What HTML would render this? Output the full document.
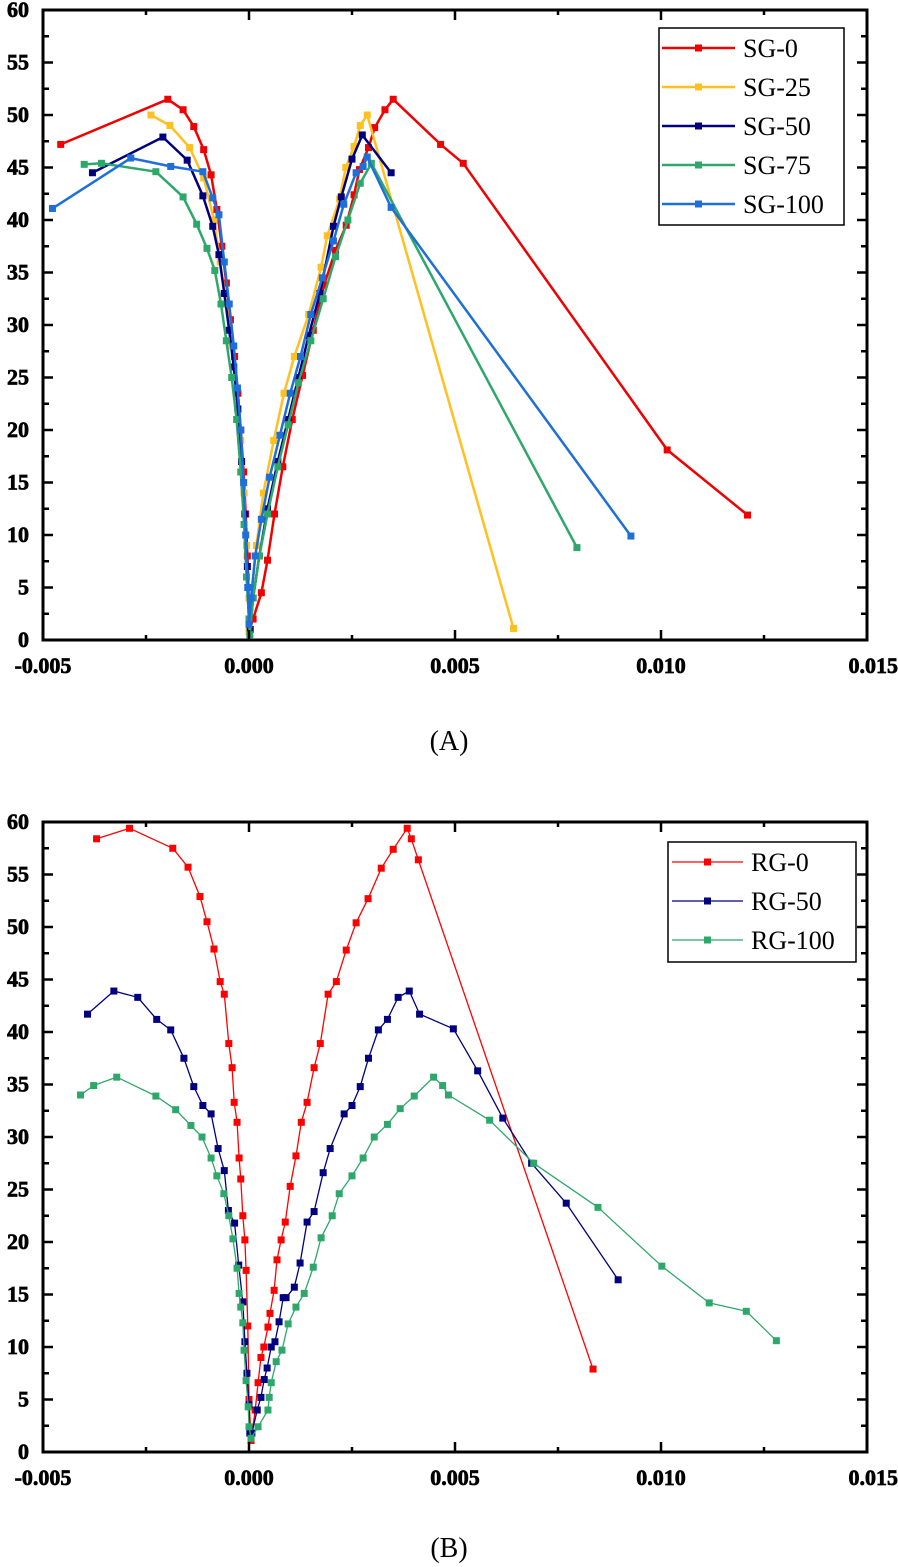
<!DOCTYPE html>
<html><head><meta charset="utf-8">
<style>
html,body{margin:0;padding:0;background:#fff;}
svg{display:block;font-family:"Liberation Serif",serif;}
.tk{font-weight:bold;font-size:22px;stroke:#000;stroke-width:0.7px;}
</style></head>
<body>
<svg id="fig" width="898" height="1567" viewBox="0 0 898 1567" xmlns="http://www.w3.org/2000/svg"></svg>
<script>
// ---- Chart A data ----
const seriesNamesA = ["SG-0","SG-25","SG-50","SG-75","SG-100"];
const colorsA = ["#f00000","#ffc020","#00007f","#2ea86a","#1e6fd8"];
const sg0X = [-0.00457,-0.00197,-0.0016,-0.00134,-0.0011,-0.00092,-0.00078,-0.00066,-0.00055,-0.00045,-0.00035,-0.00027,-0.0002,-0.00013,-0.00008,-0.00004,0,0.00002,0.0001,0.0003,0.00045,0.00062,0.00082,0.00105,0.0013,0.00156,0.00182,0.0021,0.00236,0.00255,0.00268,0.0029,0.00305,0.0033,0.0035,0.00465,0.0052,0.01015,0.0121];
const sg0Y = [47.2,51.5,50.5,48.9,46.7,44.3,41,37.5,34,30.5,27,23.5,20,16,12,8,4,1,2,4.5,7.6,12,16.5,21,25.2,29.5,33.8,37.1,39.5,42.4,44.8,46.9,48.8,50.5,51.5,47.2,45.4,18.1,11.9];
const sg25X = [-0.00238,-0.00192,-0.00144,-0.0011,-0.00085,-0.0007,-0.00055,-0.00042,-0.0003,-0.0002,-0.00012,-0.00006,0,0,0.00005,0.00018,0.00035,0.0006,0.00085,0.0011,0.00145,0.00175,0.0019,0.0022,0.00235,0.00255,0.0027,0.00287,0.00642];
const sg25Y = [50,49,46.9,44,40,36,32,28,24,19,14,9,4,0.8,4,9,14,19,23.5,27,31,35.5,38.5,42,45,47,49,50,1.1];
const sg50X = [-0.0038,-0.00209,-0.0015,-0.00112,-0.00088,-0.00073,-0.0006,-0.00048,-0.00037,-0.00027,-0.00018,-0.0001,-0.00004,0,0.00003,0.0001,0.00025,0.00045,0.0007,0.00095,0.0012,0.00145,0.00172,0.00205,0.00224,0.0025,0.00275,0.00345];
const sg50Y = [44.5,47.9,45.7,42.3,39.4,36.7,33,29.5,26,22,17,12,7,2,1,4,8,12.5,17,21,25,29,33,39.4,42.2,45.8,48.1,44.5];
const sg75X = [-0.004,-0.00358,-0.00226,-0.0016,-0.00127,-0.00102,-0.00083,-0.00068,-0.00055,-0.00042,-0.0003,-0.0002,-0.00012,-0.00006,0,0.00002,0.0001,0.00025,0.00045,0.0007,0.00095,0.0012,0.0015,0.0018,0.0021,0.0024,0.0027,0.00297,0.00796];
const sg75Y = [45.3,45.4,44.6,42.2,39.6,37.3,35.2,32,28.5,25,21,16,11,6,2,0.5,4,8,12,16.5,20.5,24.5,28.5,32.5,36.5,40,43.5,45.4,8.8];
const sg100X = [-0.00477,-0.00287,-0.0019,-0.00112,-0.00088,-0.00073,-0.0006,-0.00048,-0.00037,-0.00028,-0.0002,-0.00013,-0.00008,-0.00003,0,0.00005,0.00015,0.0003,0.0005,0.00075,0.001,0.00125,0.0015,0.00178,0.00205,0.0023,0.0026,0.00277,0.00287,0.00345,0.00927];
const sg100Y = [41.1,45.9,45.1,44.6,42.1,40.5,36,32,28,24,20,15,10,5,1.5,4,8,11.5,15.5,19.5,23.5,27,31,34.5,38,41.5,44.5,45.1,46,41.2,9.9];

// ---- Chart B data ----
const seriesNamesB = ["RG-0","RG-50","RG-100"];
const colorsB = ["#ff0000","#000080","#2ea86a"];
const rg0X = [-0.0037,-0.0029,-0.00185,-0.00148,-0.00119,-0.00102,-0.00085,-0.0007,-0.0006,-0.00049,-0.00041,-0.00036,-0.00029,-0.00024,-0.0002,-0.00015,-0.0001,-0.00007,-0.00003,0,0.00005,0.00015,0.00022,0.00029,0.00036,0.00046,0.00051,0.00061,0.00068,0.00078,0.00088,0.001,0.00114,0.00127,0.00141,0.00158,0.00173,0.00192,0.00212,0.00236,0.0026,0.00289,0.00321,0.0035,0.00384,0.00394,0.00411,0.00835];
const rg0Y = [58.4,59.4,57.5,55.7,52.9,50.5,47.9,44.8,43.6,38.9,36.6,33.3,31.4,28,26,22.5,20.2,17.3,12,5,1.1,4,6.6,9,10,11.9,13.2,15.4,18.3,20.2,21.9,25.3,28.2,31.4,33.3,36.6,38.9,43.6,44.8,47.8,50.4,52.7,55.6,57.4,59.4,58.4,56.4,7.9];
const rg50X = [-0.00392,-0.00328,-0.0027,-0.00224,-0.0019,-0.00158,-0.00134,-0.00112,-0.00092,-0.00075,-0.0006,-0.0005,-0.00035,-0.00025,-0.00015,-0.0001,-0.00005,0,0.00002,0.00007,0.0002,0.00029,0.00037,0.00044,0.00054,0.00063,0.00073,0.00083,0.0009,0.0011,0.00124,0.00141,0.00158,0.0018,0.00197,0.00231,0.0025,0.0027,0.0029,0.00314,0.00336,0.00362,0.00389,0.00414,0.00496,0.00555,0.00616,0.00686,0.0077,0.00896];
const rg50Y = [41.7,43.9,43.3,41.2,40.2,37.5,34.8,33,32.2,28.9,26.8,23,21.8,17.8,14.3,10.5,7.5,4.5,1.8,1.8,4,5.2,6.9,8,10,10.5,12.4,14.7,14.7,15.7,18,21.9,22.9,26.6,28.9,32.2,33,34.8,37.5,40.2,41.2,43.3,43.9,41.7,40.3,36.3,31.8,27.5,23.7,16.4];
const rg100X = [-0.00409,-0.00377,-0.00321,-0.00226,-0.00178,-0.00141,-0.00114,-0.00092,-0.00078,-0.00061,-0.00049,-0.00039,-0.00029,-0.00024,-0.0002,-0.00015,-0.00012,-0.00007,-0.00002,0,0.00005,0.00022,0.00046,0.00049,0.00054,0.00066,0.0008,0.00095,0.00114,0.00134,0.00156,0.00175,0.00202,0.00219,0.0025,0.00277,0.00304,0.00336,0.00367,0.00401,0.00448,0.0047,0.00484,0.00584,0.00691,0.00847,0.01002,0.01117,0.01207,0.0128];
const rg100Y = [34,34.9,35.7,33.9,32.6,31.1,30,28,26.3,24.6,22.5,20.3,17.5,15.1,13.8,12.3,9.7,6.8,4.3,2.4,1.3,2.4,4,5.2,6.6,8.6,9.7,12.2,13.8,15.1,17.6,20.4,22.5,24.6,26.3,28,30,31.2,32.7,33.9,35.7,34.9,34,31.6,27.5,23.3,17.7,14.2,13.4,10.6];

const xTickLabels = ["-0.005","0.000","0.005","0.010","0.015"];
const xTickValues = [-0.005,0,0.005,0.010,0.015];
const yTickValues = [0,5,10,15,20,25,30,35,40,45,50,55,60];

const NS="http://www.w3.org/2000/svg";
const svg=document.getElementById('fig');
function mk(tag,attrs,parent){const e=document.createElementNS(NS,tag);for(const k in attrs)e.setAttribute(k,attrs[k]);(parent||svg).appendChild(e);return e;}

function drawChart(cfg){
  const L=43,R=867,T=cfg.top,B=cfg.bottom;
  const xs=v=>L+(v+0.005)/0.02*(R-L);
  const ys=v=>B-v/60*(B-T);
  const g=mk('g',{});
  
  
  cfg.series.forEach((s,i)=>{
    const sg=mk('g',{},g);
    
    
    const pts=s.x.map((v,j)=>xs(v).toFixed(1)+','+ys(s.y[j]).toFixed(1)).join(' ');
    const pl=mk('polyline',{points:pts,fill:'none',stroke:s.color,'stroke-width':cfg.lw,'stroke-linejoin':'round'},sg);
    
    
    s.x.forEach((v,j)=>{
      const r=mk('rect',{x:xs(v)-cfg.ms/2,y:ys(s.y[j])-cfg.ms/2,width:cfg.ms,height:cfg.ms,fill:s.color},sg);
      
      
    });
  });
  const fr=mk('rect',{x:L,y:T,width:R-L,height:B-T,fill:'none',stroke:'#000','stroke-width':3},g);
  
  
  for(let v=0;v<=60;v+=2.5){
    const len=(v%5===0)?10:6;const y=ys(v);
    mk('line',{x1:L,y1:y,x2:L+len,y2:y,stroke:'#000','stroke-width':2.5},g);
    mk('line',{x1:R,y1:y,x2:R-len,y2:y,stroke:'#000','stroke-width':2.5},g);
  }
  yTickValues.forEach(v=>{
    const t=mk('text',{x:29,y:ys(v)+7,'text-anchor':'end','class':'tk'},g);
    t.textContent=String(v);
    
    
  });
  for(let v=-0.005;v<=0.0151;v+=0.0025){
    const maj=Math.abs(Math.round(v/0.005)*0.005-v)<1e-9;const len=maj?10:5;const x=xs(v);
    mk('line',{x1:x,y1:B,x2:x,y2:B-len,stroke:'#000','stroke-width':2.5},g);
    mk('line',{x1:x,y1:T,x2:x,y2:T+len,stroke:'#000','stroke-width':2.5},g);
  }
  xTickValues.forEach((v,i)=>{
    let x=xs(v);
    const t=mk('text',{x:i===4?898:x,y:B+33,'text-anchor':i===4?'end':'middle','class':'tk'},g);
    t.textContent=xTickLabels[i];
    
    
  });
  const lg=mk('g',{},g);
  
  
  const lb=cfg.legend;
  mk('rect',{x:lb.x,y:lb.y,width:lb.w,height:lb.h,fill:'#fff',stroke:'#000','stroke-width':1.5},lg);
  cfg.series.forEach((s,i)=>{
    const ey=lb.y0+i*lb.dy;
    const e=mk('g',{},lg);
    
    
    mk('line',{x1:lb.lx1,y1:ey,x2:lb.lx2,y2:ey,stroke:s.color,'stroke-width':cfg.lw},e);
    const mx=(lb.lx1+lb.lx2)/2;
    mk('rect',{x:mx-cfg.ms/2,y:ey-cfg.ms/2,width:cfg.ms,height:cfg.ms,fill:s.color},e);
    const t=mk('text',{x:lb.tx,y:ey+9,'font-size':26},e);
    t.textContent=s.name;
  });
  const cap=mk('text',{x:449,y:cfg.capY,'text-anchor':'middle','font-size':28},g);
  cap.textContent=cfg.caption;
  
  
}

drawChart({name:'chart-a',top:10,bottom:640,lw:2.5,ms:7,caption:'(A)',capY:750,
  series:[{name:seriesNamesA[0],color:colorsA[0],x:sg0X,y:sg0Y},{name:seriesNamesA[1],color:colorsA[1],x:sg25X,y:sg25Y},{name:seriesNamesA[2],color:colorsA[2],x:sg50X,y:sg50Y},{name:seriesNamesA[3],color:colorsA[3],x:sg75X,y:sg75Y},{name:seriesNamesA[4],color:colorsA[4],x:sg100X,y:sg100Y}],
  legend:{x:659,y:28,w:185,h:197,y0:48,dy:39,lx1:662,lx2:735,tx:743}});
drawChart({name:'chart-b',top:822,bottom:1452,lw:1.3,ms:7,caption:'(B)',capY:1557,
  series:[{name:seriesNamesB[0],color:colorsB[0],x:rg0X,y:rg0Y},{name:seriesNamesB[1],color:colorsB[1],x:rg50X,y:rg50Y},{name:seriesNamesB[2],color:colorsB[2],x:rg100X,y:rg100Y}],
  legend:{x:668,y:842,w:188,h:120,y0:862,dy:39,lx1:672,lx2:743,tx:751}});
</script>
</body></html>
